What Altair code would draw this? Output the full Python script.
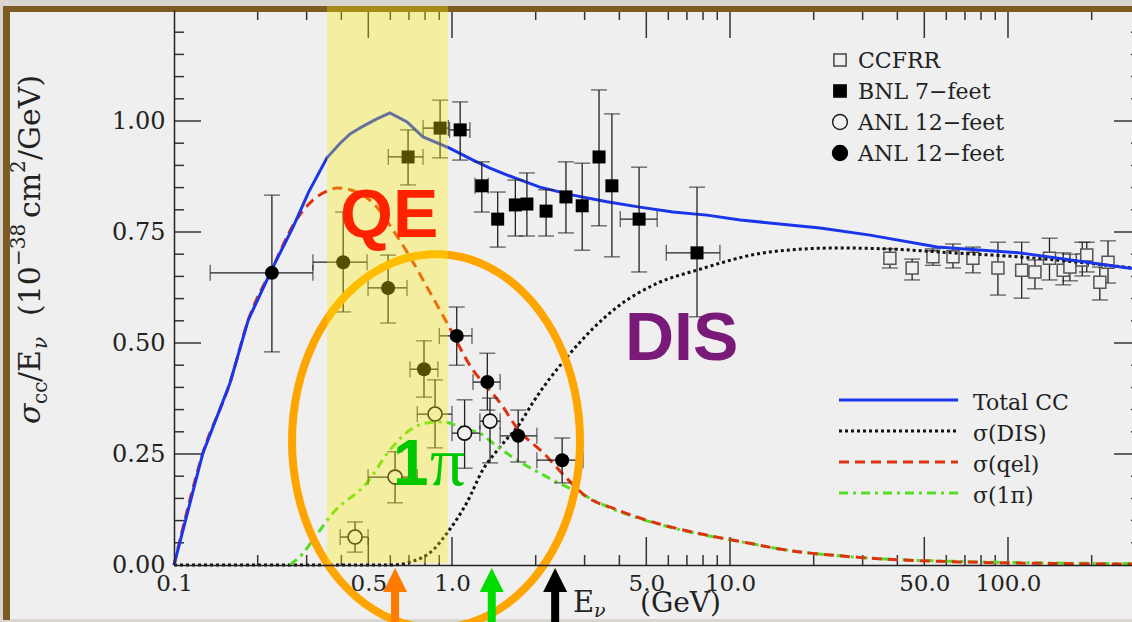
import math
import altair as alt
import pandas as pd

# ---------------------------------------------------------------
# Model curves: sigma_CC / E_nu  [1e-38 cm^2 / GeV]  vs  E_nu [GeV]
# ---------------------------------------------------------------
total_E = [0.1, 0.127, 0.159, 0.185, 0.227, 0.268, 0.305, 0.355, 0.396, 0.43,
           0.478, 0.53, 0.598, 0.689, 0.787, 0.98, 1.19, 1.37, 1.58, 2.07,
           2.72, 3.61, 4.74, 6.23, 8.26, 10.9, 21.1, 31.9, 55.6, 110, 279]
total_v = [0.0, 0.252, 0.41, 0.552, 0.671, 0.761, 0.84, 0.917, 0.95, 0.971,
           0.988, 1.003, 1.018, 0.998, 0.964, 0.939, 0.912, 0.894, 0.878, 0.851,
           0.833, 0.818, 0.806, 0.795, 0.788, 0.777, 0.759, 0.743, 0.716, 0.703, 0.668]

dis_E = [0.1, 0.45, 0.6, 0.7, 0.855, 0.96, 1.13, 1.29, 1.49, 1.76, 1.95, 2.59,
         3.93, 5.5, 7.6, 13.9, 24.3, 36.7, 63.4, 110, 279]
dis_v = [0.0, 0.0, 0.0, 0.006, 0.034, 0.072, 0.14, 0.214, 0.266, 0.32, 0.365, 0.468,
         0.581, 0.635, 0.664, 0.705, 0.714, 0.712, 0.703, 0.694, 0.669]

qe_E = [0.1, 0.127, 0.159, 0.185, 0.227, 0.268, 0.316, 0.355, 0.386, 0.455,
        0.537, 0.614, 0.706, 0.813, 0.96, 1.19, 1.34, 1.49, 1.73, 2.15,
        2.59, 3.06, 3.79, 5.0, 7.6, 11.5, 15.1, 29.4, 67, 279]
qe_v = [0.0, 0.252, 0.41, 0.552, 0.671, 0.765, 0.822, 0.842, 0.849, 0.84,
        0.806, 0.754, 0.694, 0.626, 0.545, 0.439, 0.40, 0.365, 0.305, 0.25,
        0.195, 0.153, 0.128, 0.101, 0.072, 0.05, 0.036, 0.017, 0.007, 0.002]

pi_E = [0.261, 0.29, 0.316, 0.373, 0.494, 0.598, 0.706, 0.813, 0.928, 1.13,
        1.26, 1.4, 1.65, 2.2, 2.88, 3.79, 5.0, 7.6, 11.5, 15.1, 29.4, 67, 279]
pi_v = [0.0, 0.025, 0.056, 0.117, 0.185, 0.259, 0.304, 0.32, 0.322, 0.305,
        0.297, 0.275, 0.243, 0.198, 0.162, 0.126, 0.1, 0.071, 0.05, 0.036,
        0.017, 0.008, 0.003]

# ---------------------------------------------------------------
# Measurements: value, vertical error range, horizontal (bin) range
# ---------------------------------------------------------------
ccfrr_E = [37.6, 45.2, 53.7, 63.4, 74.8, 92, 112, 125, 141, 158, 167, 185, 192, 214, 229]
ccfrr_v = [0.691, 0.669, 0.694, 0.694, 0.691, 0.669, 0.664, 0.660, 0.691, 0.664,
           0.671, 0.687, 0.698, 0.637, 0.682]
ccfrr_lo = [0.669, 0.642, 0.675, 0.669, 0.658, 0.608, 0.601, 0.622, 0.642, 0.631,
            0.640, 0.651, 0.660, 0.597, 0.635]
ccfrr_hi = [0.712, 0.689, 0.712, 0.723, 0.716, 0.727, 0.727, 0.687, 0.736, 0.703,
            0.700, 0.727, 0.727, 0.671, 0.730]

bnl_E = [0.695, 0.906, 1.07, 1.28, 1.46, 1.69, 1.86, 2.18, 2.57, 2.94, 3.38, 3.76, 4.71, 7.61]
bnl_v = [0.919, 0.984, 0.980, 0.854, 0.779, 0.811, 0.813, 0.797, 0.829, 0.809,
         0.919, 0.854, 0.779, 0.703]
bnl_lo = [0.856, 0.917, 0.912, 0.795, 0.716, 0.741, 0.741, 0.741, 0.748, 0.709,
          0.764, 0.694, 0.660, 0.559]
bnl_hi = [0.980, 1.047, 1.043, 0.908, 0.840, 0.867, 0.883, 0.845, 0.908, 0.905,
          1.070, 1.016, 0.896, 0.851]
bnl_Elo = [0.59, 0.787, 0.98, 1.21, None, None, None, None, None, None, None, None, 4.03, 5.9]
bnl_Ehi = [0.787, 0.97, 1.16, 1.35, None, None, None, None, None, None, None, None, 5.47, 9.2]

anlf_E = [0.225, 0.406, 0.589, 0.793, 1.04, 1.34, 1.73, 2.49]
anlf_v = [0.658, 0.682, 0.624, 0.441, 0.516, 0.412, 0.291, 0.236]
anlf_lo = [0.48, 0.57, 0.545, 0.378, 0.45, 0.349, 0.232, 0.185]
anlf_hi = [0.833, 0.795, 0.698, 0.505, 0.581, 0.477, 0.349, 0.286]
anlf_Elo = [0.135, 0.316, 0.499, 0.706, 0.90, 1.19, 1.49, 2.02]
anlf_Ehi = [0.316, 0.495, 0.689, 0.89, 1.18, 1.49, 2.02, 2.96]

anlo_E = [0.448, 0.624, 0.869, 1.11, 1.37]
anlo_v = [0.063, 0.198, 0.34, 0.297, 0.324]
anlo_lo = [0.029, 0.14, 0.264, 0.218, 0.23]
anlo_hi = [0.097, 0.255, 0.417, 0.372, 0.376]
anlo_Elo = [0.396, 0.499, 0.75, 1.0, 1.26]
anlo_Ehi = [0.499, 0.75, 1.0, 1.26, 1.49]

# Annotations
shade_band = [0.355, 0.967]                 # highlighted energy window
ellipse_center = [0.876, 0.279]             # (E, sigma/E) of the circled region
arrow_E = [0.624, 1.39, 2.35]
arrow_colors = ["#ff7b00", "#00dd00", "#000000"]

# Axis ticks and labels
x_labels = [0.1, 0.5, 1, 5, 10, 50, 100]
x_major = [0.5, 1, 5, 10, 50, 100]
x_minor = [0.2, 0.3, 0.4, 0.6, 0.7, 0.8, 0.9, 2, 3, 4, 6, 7, 8, 9,
           20, 30, 40, 60, 70, 80, 90, 200]
y_labels = [0.0, 0.25, 0.5, 0.75, 1.0]
y_major = [0.25, 0.5, 0.75, 1.0]
y_minor = [0.05, 0.1, 0.15, 0.2, 0.3, 0.35, 0.4, 0.45, 0.55, 0.6, 0.65, 0.7,
           0.8, 0.85, 0.9, 0.95, 1.05, 1.1, 1.15, 1.2]

symbol_legend = ["CCFRR", "BNL 7\u2212feet", "ANL 12\u2212feet", "ANL 12\u2212feet"]
line_legend = ["Total CC", "\u03c3(DIS)", "\u03c3(qel)", "\u03c3(1\u03c0)"]

# ---------------------------------------------------------------
W, H = 958, 555
SERIF = "DejaVu Serif"
SANS = "Liberation Sans"
INK = "#222222"
PANEL = "#efefef"

xscale = alt.Scale(type="log", domain=[0.1, 279.3], nice=False)
yscale = alt.Scale(domain=[0, 1.25], nice=False, zero=False)

xaxis = alt.Axis(values=x_labels, format=".1f", ticks=False, grid=False,
                 domainColor=INK, domainWidth=1.5, labelFont=SERIF, labelFontSize=23,
                 labelColor=INK, labelPadding=7, labelFlush=False, labelOverlap=False,
                 title=None, zindex=1)
yaxis = alt.Axis(values=y_labels, format=".2f", ticks=False, grid=False,
                 domainColor=INK, domainWidth=1.5, labelFont=SERIF, labelFontSize=24,
                 labelColor=INK, labelPadding=9, labelOverlap=False,
                 title=None, zindex=1)


def X(f):
    return alt.X(f"{f}:Q", scale=xscale, axis=xaxis)


def Y(f):
    return alt.Y(f"{f}:Q", scale=yscale, axis=yaxis)


one = pd.DataFrame({"k": [0]})
layers = []

# panel behind the plot
layers.append(alt.Chart(one).mark_rect(color=PANEL).encode(
    x=alt.value(-164), x2=alt.value(W), y=alt.value(2), y2=alt.value(609)))

# inward tick marks on all four sides
xt_major = pd.DataFrame({"t": x_major})
xt_minor = pd.DataFrame({"t": x_minor})
yt_major = pd.DataFrame({"t": y_major})
yt_minor = pd.DataFrame({"t": y_minor})
tick_style = dict(color="#333333", strokeWidth=1.5)
for df, ln in ((xt_major, 28), (xt_minor, 10)):
    layers.append(alt.Chart(df).mark_rule(**tick_style).encode(
        x=X("t"), y=alt.value(H), y2=alt.value(H - ln)))
    layers.append(alt.Chart(df).mark_rule(**tick_style).encode(
        x=X("t"), y=alt.value(0), y2=alt.value(ln)))
for df, ln, rv in ((yt_major, 27, 18), (yt_minor, 10, 1)):
    layers.append(alt.Chart(df).mark_rule(**tick_style).encode(
        y=Y("t"), x=alt.value(0), x2=alt.value(ln)))
    layers.append(alt.Chart(df).mark_rule(**tick_style).encode(
        y=Y("t"), x=alt.value(W - rv), x2=alt.value(W)))


def errframe(E, v, lo, hi, Elo=None, Ehi=None):
    n = len(E)
    return pd.DataFrame({"E": E, "v": v, "lo": lo, "hi": hi,
                         "Elo": Elo if Elo else [None] * n,
                         "Ehi": Ehi if Ehi else [None] * n})


def error_layers(df, cap=16):
    out = [
        alt.Chart(df).mark_rule(color=INK, strokeWidth=1.3).encode(
            x=X("E"), y=Y("lo"), y2="hi"),
        alt.Chart(df).mark_tick(orient="horizontal", size=cap, thickness=1.3, color=INK).encode(
            x=X("E"), y=Y("lo")),
        alt.Chart(df).mark_tick(orient="horizontal", size=cap, thickness=1.3, color=INK).encode(
            x=X("E"), y=Y("hi")),
    ]
    hd = df.dropna(subset=["Elo"])
    if len(hd):
        out += [
            alt.Chart(hd).mark_rule(color=INK, strokeWidth=1.3).encode(
                x=X("Elo"), x2="Ehi", y=Y("v")),
            alt.Chart(hd).mark_tick(orient="vertical", size=cap, thickness=1.3, color=INK).encode(
                x=X("Elo"), y=Y("v")),
            alt.Chart(hd).mark_tick(orient="vertical", size=cap, thickness=1.3, color=INK).encode(
                x=X("Ehi"), y=Y("v")),
        ]
    return out


ccfrr = errframe(ccfrr_E, ccfrr_v, ccfrr_lo, ccfrr_hi)
bnl = errframe(bnl_E, bnl_v, bnl_lo, bnl_hi, bnl_Elo, bnl_Ehi)
anlf = errframe(anlf_E, anlf_v, anlf_lo, anlf_hi, anlf_Elo, anlf_Ehi)
anlo = errframe(anlo_E, anlo_v, anlo_lo, anlo_hi, anlo_Elo, anlo_Ehi)

# CCFRR points sit underneath the model curves
layers += error_layers(ccfrr, cap=16)
layers.append(alt.Chart(ccfrr).mark_point(shape="square", filled=True, fill=PANEL,
                                          stroke="#555555", strokeWidth=1.5, size=144,
                                          opacity=1).encode(x=X("E"), y=Y("v")))

# model curves
curves = [
    (dis_E, dis_v, "#111111", [3, 3], "monotone"),
    (pi_E, pi_v, "#55dd22", [9, 5, 3, 5], "monotone"),
    (qe_E, qe_v, "#dd3311", [10, 6], "monotone"),
    (total_E, total_v, "#1a35ea", None, "linear"),
]
for E, v, col, dash, interp in curves:
    kw = dict(color=col, strokeWidth=3, interpolate=interp)
    if dash:
        kw["strokeDash"] = dash
    layers.append(alt.Chart(pd.DataFrame({"E": E, "v": v})).mark_line(**kw).encode(
        x=X("E"), y=Y("v")))

# remaining measurements
for df in (bnl, anlo, anlf):
    layers += error_layers(df, cap=16)
layers.append(alt.Chart(bnl).mark_point(shape="square", filled=True, color="#000000",
                                        size=169, opacity=1).encode(x=X("E"), y=Y("v")))
layers.append(alt.Chart(anlo).mark_point(shape="circle", filled=True, fill=PANEL,
                                         stroke="#111111", strokeWidth=1.6, size=196,
                                         opacity=1).encode(x=X("E"), y=Y("v")))
layers.append(alt.Chart(anlf).mark_point(shape="circle", filled=True, color="#000000",
                                         size=196, opacity=1).encode(x=X("E"), y=Y("v")))

# circled region (ellipse drawn as a custom symbol, semi-axes 144 x 187 px)
rx, ry = 144, 187
pts = [(rx / ry * math.cos(math.radians(a)), math.sin(math.radians(a))) for a in range(0, 360, 4)]
ellipse_path = "M" + " L".join(f"{px:.4f},{py:.4f}" for px, py in pts) + " Z"
layers.append(alt.Chart(pd.DataFrame({"E": [ellipse_center[0]], "v": [ellipse_center[1]]}))
              .mark_point(shape=ellipse_path, size=(2 * ry) ** 2, filled=False,
                          color="#ffa500", strokeWidth=8, opacity=1)
              .encode(x=X("E"), y=Y("v")))

# outer frame
frame = "#7d5c24"
layers.append(alt.Chart(one).mark_rect(color=frame).encode(
    x=alt.value(-171), x2=alt.value(-164), y=alt.value(-4), y2=alt.value(610)))
layers.append(alt.Chart(one).mark_rect(color=frame).encode(
    x=alt.value(-171), x2=alt.value(W), y=alt.value(-4), y2=alt.value(2)))

# highlighted energy band
layers.append(alt.Chart(pd.DataFrame({"lo": [shade_band[0]], "hi": [shade_band[1]]}))
              .mark_rect(fill="#fff000", opacity=0.33)
              .encode(x=X("lo"), x2="hi", y=alt.value(-4), y2=alt.value(H - 2)))


def label(text, x, y, size, color, font=SANS, weight="bold", style="normal", angle=0):
    return alt.Chart(one).mark_text(text=text, font=font, fontSize=size, fontWeight=weight,
                                    fontStyle=style, color=color, align="left",
                                    baseline="alphabetic", angle=angle).encode(
        x=alt.value(x), y=alt.value(y))


# process labels
layers.append(label("QE", 166, 227, 68, "#ff2200"))
layers.append(label("DIS", 451, 350, 68, "#7a1a78"))
layers.append(label("1", 219, 475, 64, "#00c800"))
layers.append(label("\u03c0", 256, 475, 70, "#00c800", font="Liberation Serif", weight="normal"))

# arrows below the energy axis
arr = pd.DataFrame({"E": arrow_E, "c": arrow_colors})
layers.append(alt.Chart(arr).mark_rule(strokeWidth=8).encode(
    x=X("E"), y=alt.value(580), y2=alt.value(630), color=alt.Color("c:N", scale=None)))
layers.append(alt.Chart(arr).mark_point(shape="M0,-1L1,1L-1,1Z", size=576, filled=True,
                                        opacity=1, strokeWidth=0).encode(
    x=X("E"), y=alt.value(570), color=alt.Color("c:N", scale=None)))

# symbol legend
sym_styles = [("square", PANEL, "#444444", 150), ("square", "#000000", "#000000", 150),
              ("circle", PANEL, "#222222", 220), ("circle", "#000000", "#000000", 220)]
for i, (name, (shape, fill, stroke, size)) in enumerate(zip(symbol_legend, sym_styles)):
    yy = 50 + 31 * i
    layers.append(alt.Chart(one).mark_point(shape=shape, filled=True, fill=fill, stroke=stroke,
                                            strokeWidth=1.5, size=size, opacity=1).encode(
        x=alt.value(666), y=alt.value(yy)))
    layers.append(label(name, 684, yy + 8, 22, INK, font=SERIF, weight="normal"))

# line legend
line_styles = [("#1a35ea", None), ("#111111", [3, 3]), ("#dd3311", [10, 6]), ("#55dd22", [9, 5, 3, 5])]
for i, (name, (col, dash)) in enumerate(zip(line_legend, line_styles)):
    yy = 390 + 31 * i
    kw = dict(color=col, strokeWidth=3)
    if dash:
        kw["strokeDash"] = dash
    layers.append(alt.Chart(one).mark_rule(**kw).encode(
        x=alt.value(665), x2=alt.value(784), y=alt.value(yy)))
    layers.append(label(name, 799, yy + 10, 22, INK, font=SERIF, weight="normal"))

# energy axis title
layers.append(label("E", 399, 602, 29, INK, font=SERIF, weight="normal"))
layers.append(label("\u03bd", 420, 607, 19, INK, font=SERIF, weight="normal", style="italic"))
layers.append(label("(GeV)", 466, 602, 28, INK, font=SERIF, weight="normal"))

# rotated cross-section title, piece by piece (text, size, baseline x, start y, style)
MAIN, SUB, SUP = -134, -127, -149
ytitle = [
    ("\u03c3", 30, MAIN, 414, "italic"),
    ("cc", 20, SUB, 394, "normal"),
    ("/E", 30, MAIN, 372, "normal"),
    ("\u03bd", 20, SUB, 339, "italic"),
    ("(10", 30, MAIN, 306, "normal"),
    ("\u221238", 20, SUP, 256, "normal"),
    ("cm", 30, MAIN, 208, "normal"),
    ("2", 20, SUP, 163, "normal"),
    ("/GeV)", 30, MAIN, 150, "normal"),
]
for txt, size, xx, yy, style in ytitle:
    layers.append(label(txt, xx, yy, size, INK, font=SERIF, weight="normal", style=style, angle=270))

chart = (alt.layer(*layers)
         .properties(width=W, height=H,
                     padding={"left": 174, "top": 10, "right": 0, "bottom": 57},
                     autosize=alt.AutoSizeParams(type="none"))
         .configure(background="#d8d6cf")
         .configure_view(stroke="transparent"))

chart.save("out.html", embed_options={"renderer": "svg", "actions": False})
